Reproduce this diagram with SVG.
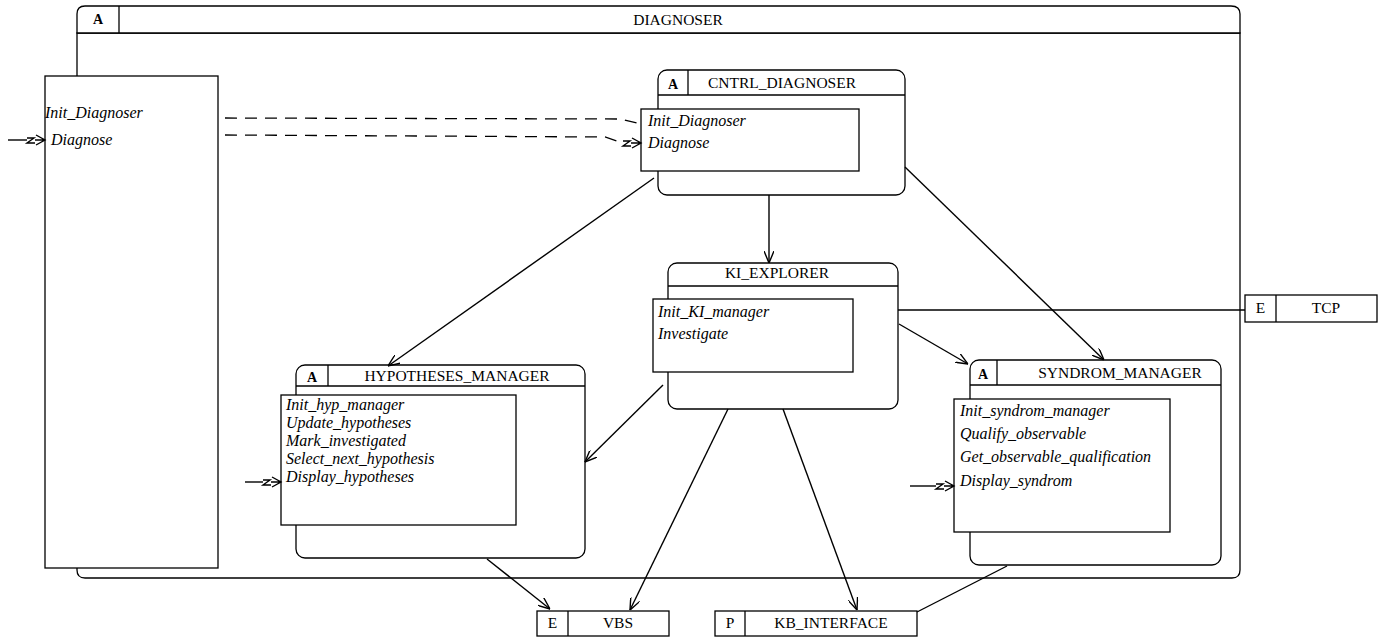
<svg xmlns="http://www.w3.org/2000/svg" width="1385" height="640" viewBox="0 0 1385 640">
<style>
.bx{fill:#fff;stroke:#000;stroke-width:1.3}
.ln{fill:none;stroke:#000;stroke-width:1.3}
.t{font-family:"Liberation Serif",serif;font-size:15.5px;fill:#000}
.a{font-family:"Liberation Serif",serif;font-size:14px;font-weight:bold;fill:#000}
.i{font-family:"Liberation Serif",serif;font-size:16px;font-style:italic;fill:#000}
.c{fill:none;stroke:#000;stroke-width:1.4}
.d{fill:none;stroke:#000;stroke-width:1.3;stroke-dasharray:12,8}
</style>
<defs>
<marker id="ar" viewBox="0 0 12 10" refX="12" refY="5" markerWidth="12" markerHeight="10" markerUnits="userSpaceOnUse" orient="auto">
<path d="M0,0 L12,5 L0,10" fill="none" stroke="#000" stroke-width="1.4"/>
</marker>
<g id="zarrow">
<path d="M-18,-2 L-11,-2 L-18,3 L-10,3 M-10,0 H0 M-9,-5 L0,0 L-9,5" fill="none" stroke="#000" stroke-width="1.4"/>
</g>
</defs>

<g id="DIAGNOSER">
<path class="bx" d="M77,33 H1240 V570 Q1240,578 1232,578 H85 Q77,578 77,570 Z"/>
<path class="bx" d="M77,33 V14 Q77,6 85,6 H1231 Q1240,6 1240,14 V33 Z"/>
<line class="ln" x1="119" y1="6" x2="119" y2="33"/>
<text class="a" x="98" y="24" text-anchor="middle">A</text>
<text class="t" x="678" y="25" text-anchor="middle">DIAGNOSER</text>
</g>

<g id="DIAGNOSER_interface">
<rect class="bx" x="45" y="76" width="173" height="492"/>
<text class="i" x="45" y="118">Init_Diagnoser</text>
<text class="i" x="51" y="145">Diagnose</text>
</g>

<g id="CNTRL_DIAGNOSER">
<rect class="bx" x="658" y="70" width="247" height="125" rx="9"/>
<line class="ln" x1="658" y1="95" x2="905" y2="95"/>
<line class="ln" x1="688" y1="70" x2="688" y2="95"/>
<text class="a" x="673" y="89" text-anchor="middle">A</text>
<text class="t" x="782" y="88" text-anchor="middle">CNTRL_DIAGNOSER</text>
<rect class="bx" x="641" y="109" width="218" height="62"/>
<text class="i" x="648" y="126">Init_Diagnoser</text>
<text class="i" x="648" y="148">Diagnose</text>
</g>

<g id="KI_EXPLORER">
<rect class="bx" x="668" y="263" width="230" height="146" rx="9"/>
<line class="ln" x1="668" y1="286" x2="898" y2="286"/>
<text class="t" x="777" y="278" text-anchor="middle">KI_EXPLORER</text>
<rect class="bx" x="653" y="299" width="200" height="73"/>
<text class="i" x="658" y="317">Init_KI_manager</text>
<text class="i" x="658" y="339">Investigate</text>
</g>

<g id="HYPOTHESES_MANAGER">
<rect class="bx" x="296" y="365" width="289" height="193" rx="9"/>
<line class="ln" x1="296" y1="386" x2="585" y2="386"/>
<line class="ln" x1="328" y1="365" x2="328" y2="386"/>
<text class="a" x="312" y="382" text-anchor="middle">A</text>
<text class="t" x="457" y="381" text-anchor="middle">HYPOTHESES_MANAGER</text>
<rect class="bx" x="281" y="395" width="235" height="130"/>
<text class="i" x="286" y="410">Init_hyp_manager</text>
<text class="i" x="286" y="428">Update_hypotheses</text>
<text class="i" x="286" y="446">Mark_investigated</text>
<text class="i" x="286" y="464">Select_next_hypothesis</text>
<text class="i" x="286" y="482">Display_hypotheses</text>
</g>

<g id="SYNDROM_MANAGER">
<rect class="bx" x="970" y="360" width="251" height="205" rx="9"/>
<line class="ln" x1="970" y1="385" x2="1221" y2="385"/>
<line class="ln" x1="997" y1="360" x2="997" y2="385"/>
<text class="a" x="983" y="379" text-anchor="middle">A</text>
<text class="t" x="1120" y="378" text-anchor="middle">SYNDROM_MANAGER</text>
<rect class="bx" x="954" y="399" width="216" height="133"/>
<text class="i" x="960" y="416">Init_syndrom_manager</text>
<text class="i" x="960" y="439">Qualify_observable</text>
<text class="i" x="960" y="462">Get_observable_qualification</text>
<text class="i" x="960" y="486">Display_syndrom</text>
</g>

<g id="TCP">
<rect class="bx" x="1245" y="295" width="132" height="27"/>
<line class="ln" x1="1276" y1="295" x2="1276" y2="322"/>
<text class="t" x="1260.5" y="313" text-anchor="middle">E</text>
<text class="t" x="1326" y="313" text-anchor="middle">TCP</text>
</g>

<g id="VBS">
<rect class="bx" x="537" y="611" width="132" height="25"/>
<line class="ln" x1="568" y1="611" x2="568" y2="636"/>
<text class="t" x="552.5" y="628" text-anchor="middle">E</text>
<text class="t" x="618" y="628" text-anchor="middle">VBS</text>
</g>

<g id="KB_INTERFACE">
<rect class="bx" x="715" y="611" width="202" height="25"/>
<line class="ln" x1="745" y1="611" x2="745" y2="636"/>
<text class="t" x="730" y="628" text-anchor="middle">P</text>
<text class="t" x="831" y="628" text-anchor="middle">KB_INTERFACE</text>
</g>

<g id="connectors">
<path class="d" d="M225,118 L620,119 L641,124"/>
<path class="d" d="M225,135 L605,137 L623,143"/>
<use href="#zarrow" x="641" y="143"/>
<path class="c" d="M8,140 H27"/>
<use href="#zarrow" x="45" y="140"/>
<path class="c" d="M245,482 H263"/>
<use href="#zarrow" x="281" y="482"/>
<path class="c" d="M910,486 H936"/>
<use href="#zarrow" x="954" y="486"/>
<line class="c" x1="654" y1="178" x2="388" y2="366" marker-end="url(#ar)"/>
<line class="c" x1="769" y1="195" x2="769" y2="263" marker-end="url(#ar)"/>
<line class="c" x1="905" y1="167" x2="1104" y2="360" marker-end="url(#ar)"/>
<line class="c" x1="899" y1="324" x2="968" y2="364" marker-end="url(#ar)"/>
<line class="c" x1="663" y1="385" x2="585" y2="462" marker-end="url(#ar)"/>
<line class="c" x1="728" y1="409" x2="630" y2="610" marker-end="url(#ar)"/>
<line class="c" x1="783" y1="409" x2="857" y2="610" marker-end="url(#ar)"/>
<line class="c" x1="487" y1="559" x2="550" y2="609" marker-end="url(#ar)"/>
<line class="c" x1="1007" y1="566" x2="917" y2="612"/>
<line class="c" x1="898" y1="310" x2="1245" y2="310"/>
</g>
</svg>
